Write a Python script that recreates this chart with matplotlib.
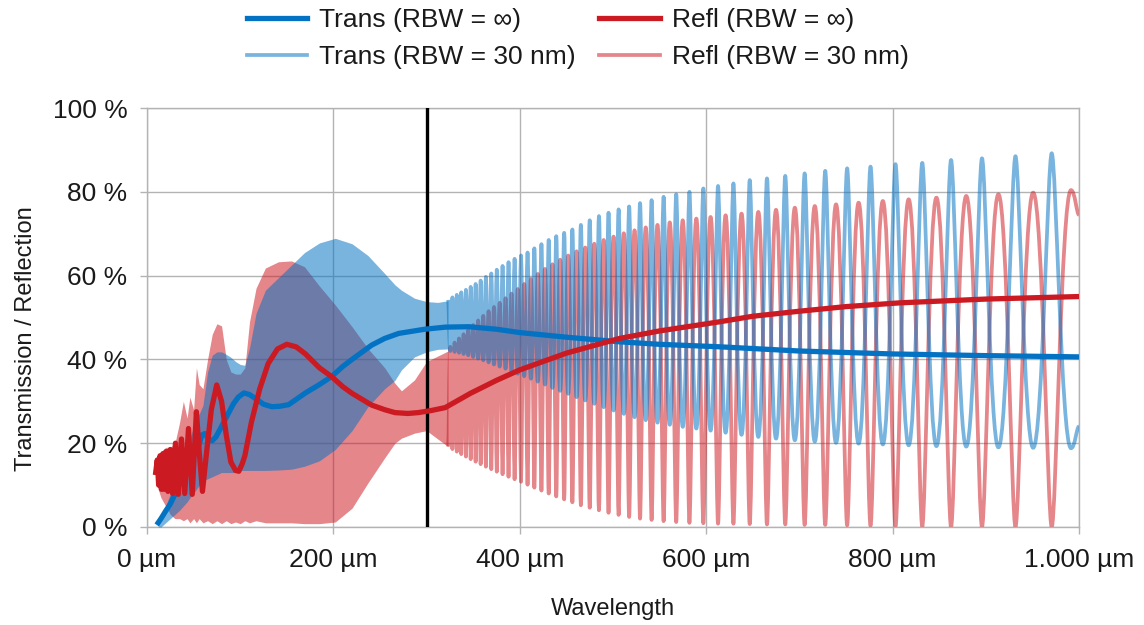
import matplotlib
matplotlib.use('Agg')
import matplotlib.pyplot as plt
from matplotlib.path import Path
from matplotlib.patches import PathPatch
from matplotlib.ticker import FixedLocator, FuncFormatter

plt.rcParams['font.family'] = ['Liberation Sans', 'DejaVu Sans']

# ---------------------------------------------------------------
# data (wavelength in um, values in %)
# ---------------------------------------------------------------

# RBW = infinite, transmission
trans_inf_x = [10.4, 15, 20, 25, 30, 33, 36, 40, 43, 47, 50, 55, 59, 62, 66, 70, 74, 80, 87, 93,
               98, 104, 110, 116, 125, 134, 142, 152, 170, 185, 198, 210, 220, 241, 255, 270,
               298, 320, 345, 375, 400, 450, 507, 550, 615, 700, 800, 900, 1000]
trans_inf = [0.5, 2.0, 3.8, 5.5, 7.8, 9.5, 10.5, 13.5, 14.5, 15.5, 17.0, 19.0, 22.0, 22.3, 21.0,
             20.6, 21.5, 24.0, 27.0, 29.5, 31.0, 32.0, 31.6, 30.7, 29.3, 28.7, 28.8, 29.2, 32.0,
             34.0, 35.9, 38.3, 40.0, 43.4, 45.0, 46.2, 47.2, 47.7, 47.8, 47.2, 46.4, 45.3, 44.2,
             43.6, 43.0, 42.0, 41.3, 40.9, 40.6]

# RBW = infinite, reflection
refl_inf_x = [9, 11, 12.5, 14, 15.5, 17, 18.5, 20.5, 22.5, 25, 27.5, 30.5, 33.5, 37, 40.5, 44.5,
              48.5, 53, 56, 59.5, 64, 69, 74.8, 80, 85, 90, 95, 98.5, 102, 105, 112, 121, 130,
              140, 150, 160, 170, 185, 198, 210, 220, 241, 255, 266, 280, 291, 305, 320, 347,
              375, 400, 450, 507, 550, 615, 650, 700, 750, 808, 900, 1000]
refl_inf = [12.4, 16, 10, 17, 9, 17.5, 9, 18, 8.5, 18.5, 8, 20, 7.8, 21, 8, 23.5, 7.8, 27.5, 18,
            8.5, 18, 28, 33.9, 30, 22, 15.5, 13.5, 13.3, 15, 17, 25, 33, 39, 42.5, 43.6, 43,
            41.3, 38, 35.9, 33.5, 31.9, 29.1, 28, 27.3, 27.1, 27.3, 27.8, 28.5, 31.9, 35, 37.5,
            41.5, 45, 46.8, 49, 50.3, 51.5, 52.6, 53.5, 54.4, 55]

# RBW = 30 nm, short wavelengths: fringes too dense to resolve -> envelopes
env_x = [12, 15, 20, 25, 30, 35, 39, 43, 46, 50, 53, 56, 60, 65, 70, 75, 80, 85, 90, 95, 100,
         105, 110, 117, 127, 141, 155, 169, 185, 202, 220, 237, 255, 266, 273, 287, 300, 312, 323]
trans_hi = [0.5, 2, 5, 8, 11, 14, 16, 19, 21, 24, 26, 27, 29, 37, 41, 41.8, 41.8, 41.2, 40.5,
            39.5, 38.8, 38.6, 42.7, 51, 56.5, 59.5, 62.5, 65.5, 67.8, 68.9, 67.6, 64.8, 60.5,
            57.8, 56.5, 54.6, 53.8, 53.6, 54.0]
trans_lo = [0, 0, 1, 2, 3, 4, 5, 6, 7, 8, 9, 10, 11, 11.5, 12, 12.5, 13, 13, 13, 13, 13.5, 13.5,
            13.5, 13.5, 13.5, 13.6, 13.8, 14.5, 15.8, 18.5, 23, 28.7, 33, 35, 37.5, 40.6, 41.8,
            42.4, 42.5]
refl_hi = [16, 18, 19, 19, 20, 25, 30, 26, 31, 28, 38, 34, 33, 40, 46, 48.5, 48, 40, 37, 36.5,
           36.5, 38, 49, 57, 61.8, 63.3, 63.5, 62.1, 57.5, 53, 47.8, 42.6, 38, 34.3, 32.5, 35.1,
           39.5, 40.8, 42]
refl_lo = [9, 7, 5, 3, 2, 2, 1.5, 2, 1, 2, 1, 2, 1, 1.5, 0.8, 1.5, 0.8, 1.5, 0.8, 1.2, 0.8, 1.5,
           1, 1.5, 1, 1, 1, 0.8, 0.8, 1.2, 4.5, 10.5, 16.5, 20, 21.2, 22.4, 23, 21, 19.2]

# RBW = 30 nm, resolved fringes: extrema positions (trans peak / trans trough alternating)
fringe_x = [323.2, 325.4, 327.7, 330.1, 332.4, 334.8, 337.2, 339.7, 342.2, 344.7, 347.3, 349.9,
            352.6, 355.3, 358.0, 360.8, 363.6, 366.5, 369.4, 372.3, 375.3, 378.4, 381.5, 384.7,
            387.9, 391.1, 394.4, 397.8, 401.3, 404.7, 408.3, 411.9, 415.6, 419.3, 423.2, 427.0,
            431.0, 435.0, 439.1, 443.3, 447.6, 451.9, 456.4, 460.9, 465.5, 470.2, 475.0, 479.9,
            484.9, 490.0, 495.2, 500.6, 506.0, 511.6, 517.3, 523.1, 529.0, 535.1, 541.4, 547.7,
            554.3, 560.9, 567.8, 574.8, 582.0, 589.4, 596.9, 604.7, 612.7, 620.8, 629.2, 637.9,
            646.7, 655.9, 665.2, 674.9, 684.8, 695.1, 705.6, 716.5, 727.7, 739.3, 751.2, 763.5,
            776.3, 789.5, 803.1, 817.2, 831.8, 847.0, 862.7, 879.0, 895.9, 913.5, 931.8, 950.8,
            970.7, 991.4, 1000]
trans_fringe = [54.2, 42.0, 54.8, 41.8, 55.4, 41.6, 56.0, 41.3, 56.6, 41.0, 57.3, 40.6, 58.0,
                40.2, 58.8, 39.8, 59.7, 39.3, 60.5, 38.8, 61.4, 38.3, 62.3, 37.8, 63.2, 37.2,
                64.0, 36.6, 64.8, 36.0, 65.5, 35.4, 66.5, 34.7, 67.5, 34.0, 68.5, 33.2, 69.4,
                32.5, 70.2, 31.8, 71.0, 31.0, 72.1, 30.2, 73.2, 29.4, 74.2, 28.6, 75.0, 27.8,
                75.8, 27.0, 76.5, 26.2, 77.3, 25.5, 78.0, 24.9, 78.8, 24.4, 79.4, 23.9, 80.0,
                23.5, 80.8, 23.0, 81.4, 22.5, 82.0, 22.0, 82.8, 21.5, 83.2, 21.1, 83.8, 20.7,
                84.4, 20.4, 85.0, 20.1, 85.6, 19.9, 86.0, 19.7, 86.6, 19.5, 86.9, 19.3, 87.6,
                19.2, 88.0, 19.0, 88.5, 18.9, 89.2, 18.8, 24.0]
refl_fringe = [19.2, 43.0, 18.6, 44.0, 18.0, 45.0, 17.4, 46.0, 16.8, 47.0, 16.2, 48.2, 15.6,
               49.3, 15.0, 50.4, 14.4, 51.5, 13.8, 52.5, 13.2, 53.5, 12.6, 54.6, 12.0, 55.7,
               11.4, 56.8, 10.8, 58.0, 10.1, 59.2, 9.4, 60.4, 8.7, 61.6, 8.0, 62.7, 7.3, 63.8,
               6.6, 64.8, 5.9, 65.8, 5.2, 66.7, 4.6, 67.6, 4.0, 68.5, 3.4, 69.3, 2.9, 70.1, 2.4,
               70.8, 2.0, 71.5, 1.7, 72.1, 1.4, 72.7, 1.2, 73.2, 1.0, 73.6, 0.9, 74.0, 0.8, 74.4,
               0.8, 74.8, 0.7, 75.2, 0.6, 75.7, 0.6, 76.2, 0.5, 76.6, 0.5, 77.0, 0.4, 77.4, 0.3,
               77.8, 0.2, 78.2, 0.1, 78.6, 0.0, 79.0, 0.0, 79.4, 0.0, 79.8, 0.0, 80.4, 74.5]

marker_x = 300
x_ticks = [0, 200, 400, 600, 800, 1000]
y_ticks = [0, 20, 40, 60, 80, 100]

# ---------------------------------------------------------------
BLUE = '#0372c3'
RED = '#cc1a22'
THIN_ALPHA = 0.53
THIN_LW = 2.7
THICK_LW = 3.8
GRID = '#b3b3b3'
TXT = '#1a1a1a'


def smooth_patch(xs, ys, color):
    # draw the fringe extrema as a smoothed line (cubic Bezier segments with flat
    # tangents at every extremum; short handle at the sharp side, long one at the round side)
    handles = [0.22 if i % 2 == 0 else 0.5 for i in range(len(xs))]
    handles[-1] = 0.3
    verts = [(xs[0], ys[0])]
    codes = [Path.MOVETO]
    for i in range(1, len(xs)):
        dx = xs[i] - xs[i - 1]
        verts += [(xs[i - 1] + handles[i - 1] * dx, ys[i - 1]),
                  (xs[i] - handles[i] * dx, ys[i]),
                  (xs[i], ys[i])]
        codes += [Path.CURVE4] * 3
    return PathPatch(Path(verts, codes), fill=False, edgecolor=color, alpha=THIN_ALPHA,
                     lw=THIN_LW, joinstyle='round', capstyle='butt')


fig = plt.figure(figsize=(11.44, 6.25), dpi=100)
ax = fig.add_axes([0.1285, 0.1568, 0.8147, 0.6704])

# thin curves (RBW = 30 nm): red first, blue over it
ax.fill_between(env_x, refl_lo, refl_hi, color=RED, alpha=THIN_ALPHA, lw=0, zorder=2)
p = ax.add_patch(smooth_patch(fringe_x, refl_fringe, RED))
p.set_zorder(2)
ax.fill_between(env_x, trans_lo, trans_hi, color=BLUE, alpha=THIN_ALPHA, lw=0, zorder=3)
p = ax.add_patch(smooth_patch(fringe_x, trans_fringe, BLUE))
p.set_zorder(3)

# marker line
ax.axvline(marker_x, color='black', lw=2.4, zorder=4)

# thick curves (RBW = inf)
ax.plot(trans_inf_x, trans_inf, color=BLUE, lw=THICK_LW, zorder=5, solid_capstyle='butt')
ax.plot(refl_inf_x, refl_inf, color=RED, lw=THICK_LW, zorder=6, solid_capstyle='butt')

# axes
ax.set_xlim(0, 1000)
ax.set_ylim(0, 100)
ax.xaxis.set_major_locator(FixedLocator(x_ticks))
ax.yaxis.set_major_locator(FixedLocator(y_ticks))
ax.xaxis.set_major_formatter(FuncFormatter(
    lambda v, p: '{:,.0f}'.format(v).replace(',', '.') + ' µm'))
ax.yaxis.set_major_formatter(FuncFormatter(lambda v, p: '{:.0f} %'.format(v)))
ax.grid(True, color=GRID, lw=1.0, zorder=0)
ax.set_axisbelow(True)
for s in ax.spines.values():
    s.set_color(GRID)
    s.set_linewidth(1.0)
ax.tick_params(axis='both', colors=GRID, labelcolor=TXT, labelsize=19, length=5, width=1)
ax.tick_params(axis='x', pad=10)
ax.tick_params(axis='y', pad=9)

ax.set_xlabel('Wavelength', fontsize=17, color=TXT)
ax.set_ylabel('Transmission / Reflection', fontsize=17, color=TXT)
ax.xaxis.set_label_coords(0.5, -0.17)
ax.yaxis.set_label_coords(-0.118, 0.45)

# legend (built from the same styles)
h1, = ax.plot([], [], color=BLUE, lw=THICK_LW)
h2, = ax.plot([], [], color=BLUE, lw=THIN_LW, alpha=THIN_ALPHA)
h3, = ax.plot([], [], color=RED, lw=THICK_LW)
h4, = ax.plot([], [], color=RED, lw=THIN_LW, alpha=THIN_ALPHA)
fig.legend([h1, h2, h3, h4],
           ['Trans (RBW = ∞)', 'Trans (RBW = 30 nm)', 'Refl (RBW = ∞)', 'Refl (RBW = 30 nm)'],
           loc='upper center', bbox_to_anchor=(0.505, 1.025), ncol=2, frameon=False,
           fontsize=19, handlelength=2.3, handletextpad=0.45, columnspacing=0.9,
           labelspacing=0.5, labelcolor=TXT)

fig.savefig('out.png', dpi=100, facecolor='white')
